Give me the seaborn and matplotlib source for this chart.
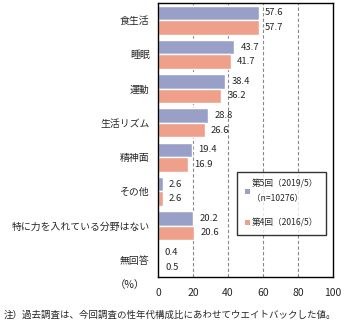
import matplotlib
matplotlib.use("Agg")
import matplotlib.pyplot as plt
import seaborn as sns
import pandas as pd
from matplotlib.patches import Patch

categories = ["食生活", "睡眠", "運動", "生活リズム", "精神面", "その他", "特に力を入れている分野はない", "無回答"]
series_names = ["第5回（2019/5）\n（n=10276）", "第4回（2016/5）"]
round5 = [57.6, 43.7, 38.4, 28.8, 19.4, 2.6, 20.2, 0.4]
round4 = [57.7, 41.7, 36.2, 26.6, 16.9, 2.6, 20.6, 0.5]
xticks = [0, 20, 40, 60, 80, 100]
colors = ["#99a0c8", "#eea08a"]

sns.set_style("white")
plt.rcParams['font.family'] = ['Noto Sans CJK JP', 'DejaVu Sans']

df = pd.DataFrame({
    "cat": categories * 2,
    "val": round5 + round4,
    "series": [series_names[0]] * len(categories) + [series_names[1]] * len(categories),
})

fig = plt.figure(figsize=(3.6, 3.31), dpi=100)
ax = fig.add_axes([158/360, 1 - 277/331, 175/360, 274/331])
sns.barplot(data=df, x="val", y="cat", hue="series", orient="h", palette=colors,
            ax=ax, width=0.84, legend=False, saturation=1)
ax.set_xlim(0, 100)
ax.set_ylim(len(categories) - 0.5, -0.5)
ax.set_xticks(xticks)
ax.set_xticklabels([str(t) for t in xticks], fontsize=7.5)
ax.set_yticks(range(len(categories)))
ax.set_yticklabels(categories, fontsize=7.1)
ax.set_yticks([i + 0.5 for i in range(len(categories) - 1)], minor=True)
ax.tick_params(axis="y", which="major", length=0, pad=6)
ax.tick_params(axis="y", which="minor", length=3, direction="in", width=0.8)
ax.tick_params(axis="x", length=0, pad=8)
ax.set_xlabel("")
ax.set_ylabel("")
for x in [20, 40, 60, 80]:
    ax.axvline(x, color="#888888", linestyle=(0, (3, 2)), linewidth=0.8, zorder=0)
for s in ax.spines.values():
    s.set_color("black")
    s.set_linewidth(1)

for i, (a, b) in enumerate(zip(round5, round4)):
    ax.text(a + 3.5, i - 0.21, f"{a:.1f}", va="center", ha="left", fontsize=6.8)
    ax.text(b + 3.5, i + 0.21, f"{b:.1f}", va="center", ha="left", fontsize=6.8)

handles = [Patch(facecolor=c, edgecolor="none") for c in colors]
leg = ax.legend(handles, series_names, loc="upper left", bbox_to_anchor=(0.45, 0.383),
                fontsize=6.2, frameon=True, fancybox=False, edgecolor="black",
                handlelength=0.6, handleheight=0.6, handletextpad=0.25,
                labelspacing=1.8, borderpad=0.9, borderaxespad=0)
for t in leg.get_texts():
    t.set_linespacing(1.7)
leg.get_frame().set_linewidth(1)

fig.text(130/360, 1 - 285/331, "（%）", fontsize=7.5, ha="center", va="center")
fig.text(4/360, 1 - 315/331, "注）過去調査は、今回調査の性年代構成比にあわせてウエイトバックした値。",
         fontsize=6.8, ha="left", va="center")

fig.savefig("out.png", dpi=100)
